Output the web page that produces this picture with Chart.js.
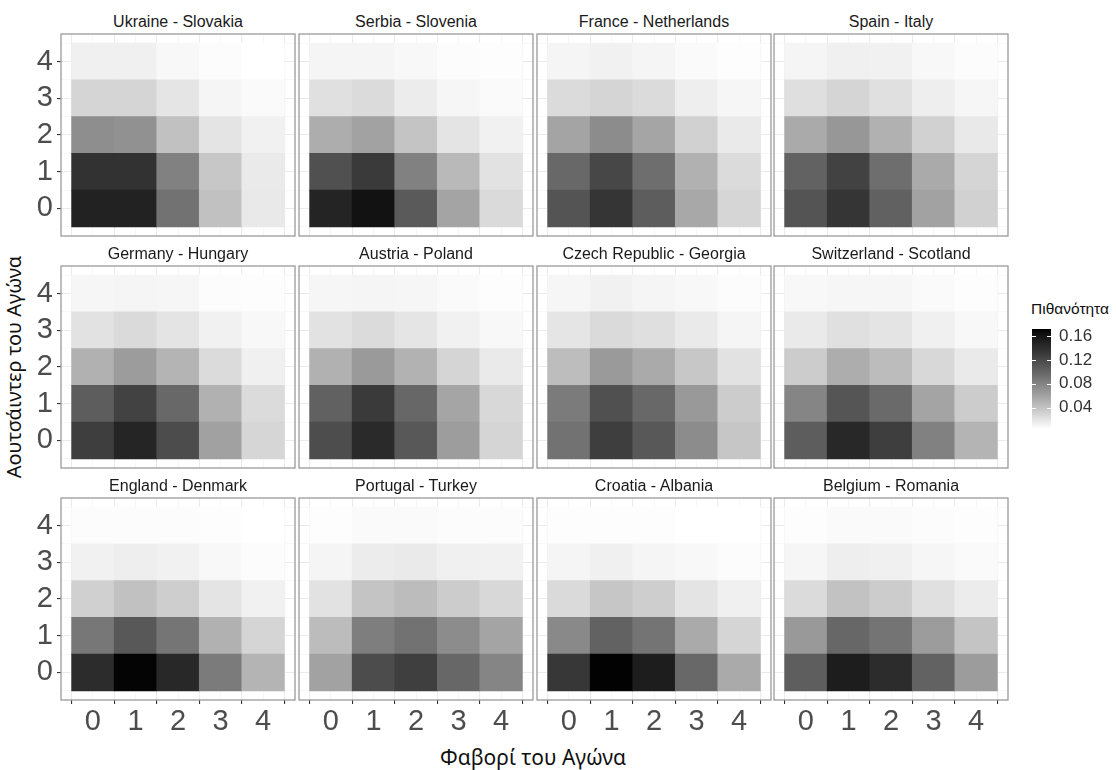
<!DOCTYPE html>
<html>
<head>
<meta charset="utf-8">
<script src="https://cdn.jsdelivr.net/npm/chart.js@4.4.1/dist/chart.umd.min.js"></script>
<style>
    body { margin: 0; width: 1116px; height: 770px; overflow: hidden; position: relative; background: #fff; font-family: "Liberation Sans", Arial, sans-serif; }
    canvas { position: absolute; }
    .strip { position: absolute; text-align: center; font-size: 16px; line-height: 18px; color: #1a1a1a; }
    .axis-title { position: absolute; white-space: nowrap; font-family: "Noto Sans", sans-serif; color: #111; }
</style>
</head>
<body>
<div class="axis-title" style="left:13px; top:367px; font-size:20px; transform: translate(-50%, -50%) rotate(-90deg);">Αουτσάιντερ του Αγώνα</div>
<div class="axis-title" style="left:533px; top:757px; font-size:21px; transform: translate(-50%, -50%);">Φαβορί του Αγώνα</div>
<div class="axis-title" style="left:1070px; top:309px; font-size:15.5px; font-family: 'Liberation Sans', Arial, sans-serif; transform: translate(-50%, -50%);">Πιθανότητα</div>
<script>
// Dữ liệu: tên trận, số bàn, nhãn thang màu
const matches = [
    "Ukraine - Slovakia", "Serbia - Slovenia", "France - Netherlands", "Spain - Italy",
    "Germany - Hungary", "Austria - Poland", "Czech Republic - Georgia", "Switzerland - Scotland",
    "England - Denmark", "Portugal - Turkey", "Croatia - Albania", "Belgium - Romania"
];
const goals = [0, 1, 2, 3, 4];
const minorGoals = [-0.5, 0.5, 1.5, 2.5, 3.5, 4.5];
const legendTicks = [0.04, 0.08, 0.12, 0.16];
const probMin = 0.004, probMax = 0.172;

// Xác suất tỉ số: hàng = bàn đội yếu (0..4), cột = bàn đội mạnh (0..4)
const ukraineSlovakia = [
    [0.150, 0.150, 0.091, 0.041, 0.017],
    [0.137, 0.137, 0.081, 0.037, 0.016],
    [0.073, 0.071, 0.041, 0.020, 0.012],
    [0.029, 0.029, 0.019, 0.010, 0.007],
    [0.013, 0.013, 0.008, 0.006, 0.004]
];
const serbiaSlovenia = [
    [0.148, 0.163, 0.108, 0.059, 0.026],
    [0.115, 0.131, 0.081, 0.046, 0.021],
    [0.053, 0.060, 0.039, 0.020, 0.012],
    [0.022, 0.025, 0.015, 0.009, 0.007],
    [0.010, 0.010, 0.008, 0.006, 0.005]
];
const franceNetherlands = [
    [0.112, 0.135, 0.106, 0.056, 0.028],
    [0.098, 0.121, 0.094, 0.051, 0.025],
    [0.059, 0.074, 0.058, 0.031, 0.016],
    [0.025, 0.029, 0.025, 0.014, 0.009],
    [0.010, 0.012, 0.010, 0.007, 0.005]
];
const spainItaly = [
    [0.112, 0.135, 0.103, 0.060, 0.031],
    [0.102, 0.125, 0.094, 0.055, 0.029],
    [0.055, 0.067, 0.051, 0.031, 0.017],
    [0.023, 0.029, 0.022, 0.014, 0.009],
    [0.010, 0.013, 0.012, 0.008, 0.006]
];
const germanyHungary = [
    [0.128, 0.147, 0.118, 0.061, 0.028],
    [0.106, 0.125, 0.098, 0.051, 0.025],
    [0.051, 0.064, 0.049, 0.025, 0.013],
    [0.021, 0.026, 0.020, 0.012, 0.008],
    [0.009, 0.010, 0.009, 0.006, 0.005]
];
const austriaPoland = [
    [0.117, 0.143, 0.109, 0.063, 0.029],
    [0.103, 0.131, 0.099, 0.058, 0.027],
    [0.051, 0.065, 0.050, 0.029, 0.016],
    [0.021, 0.025, 0.019, 0.012, 0.008],
    [0.009, 0.010, 0.009, 0.007, 0.005]
];
const czechGeorgia = [
    [0.091, 0.128, 0.109, 0.074, 0.038],
    [0.085, 0.115, 0.098, 0.066, 0.034],
    [0.043, 0.065, 0.055, 0.037, 0.021],
    [0.019, 0.026, 0.023, 0.016, 0.010],
    [0.009, 0.012, 0.010, 0.008, 0.006]
];
const switzerlandScotland = [
    [0.106, 0.145, 0.128, 0.081, 0.049],
    [0.079, 0.111, 0.097, 0.059, 0.034],
    [0.034, 0.053, 0.044, 0.027, 0.016],
    [0.016, 0.022, 0.020, 0.013, 0.008],
    [0.008, 0.009, 0.009, 0.007, 0.005]
];
const englandDenmark = [
    [0.142, 0.170, 0.145, 0.085, 0.049],
    [0.088, 0.109, 0.089, 0.051, 0.029],
    [0.032, 0.041, 0.033, 0.020, 0.012],
    [0.012, 0.014, 0.012, 0.008, 0.006],
    [0.006, 0.006, 0.006, 0.005, 0.004]
];
const portugalTurkey = [
    [0.060, 0.118, 0.127, 0.099, 0.079],
    [0.044, 0.083, 0.091, 0.074, 0.059],
    [0.021, 0.039, 0.044, 0.034, 0.027],
    [0.010, 0.015, 0.016, 0.013, 0.012],
    [0.005, 0.007, 0.007, 0.006, 0.006]
];
const croatiaAlbania = [
    [0.133, 0.171, 0.154, 0.098, 0.055],
    [0.076, 0.102, 0.090, 0.055, 0.029],
    [0.026, 0.038, 0.033, 0.020, 0.013],
    [0.010, 0.013, 0.010, 0.008, 0.006],
    [0.005, 0.005, 0.005, 0.004, 0.004]
];
const belgiumRomania = [
    [0.105, 0.154, 0.142, 0.102, 0.064],
    [0.066, 0.099, 0.090, 0.064, 0.039],
    [0.025, 0.040, 0.034, 0.022, 0.015],
    [0.009, 0.014, 0.013, 0.009, 0.007],
    [0.005, 0.007, 0.007, 0.006, 0.005]
];
const probs = [
    ukraineSlovakia, serbiaSlovenia, franceNetherlands, spainItaly,
    germanyHungary, austriaPoland, czechGeorgia, switzerlandScotland,
    englandDenmark, portugalTurkey, croatiaAlbania, belgiumRomania
];

// Bố cục các ô (facet)
const colLeft = [61, 299, 537, 774];
const rowTop = [34, 266, 498];
const panelW = 234, panelH = 202, padL = 52, padB = 50;
const tickFont = { family: "'Liberation Sans', Arial, sans-serif", size: 29 };

// Thang màu trắng -> đen, nội suy theo L* như ggplot
function grayFor(v) {
    let t = (v - probMin) / (probMax - probMin);
    t = Math.min(1, Math.max(0, t));
    const L = 100 * (1 - t);
    const Y = L > 8 ? Math.pow((L + 16) / 116, 3) : L / 903.3;
    const s = Y <= 0.0031308 ? 12.92 * Y : 1.055 * Math.pow(Y, 1 / 2.4) - 0.055;
    const g = Math.round(255 * Math.min(1, Math.max(0, s)));
    return `rgb(${g},${g},${g})`;
}

// bỏ phần đệm tự động cho nhãn, để khung vẽ cố định
function noPad(s) {
    s.paddingTop = 0; s.paddingBottom = 0; s.paddingLeft = 0; s.paddingRight = 0;
}

const panelBorder = {
    id: 'panelBorder',
    afterDatasetsDraw(chart) {
        const { ctx, chartArea: a } = chart;
        ctx.save();
        ctx.strokeStyle = '#9a9a9a';
        ctx.lineWidth = 1.3;
        ctx.strokeRect(a.left, a.top, a.right - a.left, a.bottom - a.top);
        ctx.restore();
    }
};

const hidden = 'rgba(0,0,0,0)';

function mainAxis(showLabels, isX) {
    return {
        type: 'linear', min: -0.75, max: 4.75, offset: false,
        afterBuildTicks: s => { s.ticks = goals.map(v => ({ value: v })); },
        afterFit: s => { if (isX) s.height = padB; else s.width = padL; noPad(s); },
        grid: { color: '#ebebeb', lineWidth: 1.1, tickLength: 4, tickColor: showLabels ? '#333' : hidden },
        border: { display: false },
        ticks: {
            autoSkip: false, maxRotation: 0, padding: isX ? 1 : 4,
            color: showLabels ? '#4d4d4d' : hidden, font: tickFont,
            callback: v => String(v)
        }
    };
}

function minorAxis(isX) {
    return {
        type: 'linear', min: -0.75, max: 4.75, offset: false,
        position: isX ? 'bottom' : 'left',
        afterBuildTicks: s => { s.ticks = minorGoals.map(v => ({ value: v })); },
        afterFit: s => { if (isX) s.height = 0; else s.width = 0; noPad(s); },
        grid: { color: '#f4f4f4', lineWidth: 0.6, drawTicks: false },
        border: { display: false },
        ticks: { display: false }
    };
}

matches.forEach((name, k) => {
    const r = Math.floor(k / 4), c = k % 4;
    const m = probs[k];

    const strip = document.createElement('div');
    strip.className = 'strip';
    strip.style.left = colLeft[c] + 'px';
    strip.style.top = (rowTop[r] - 21) + 'px';
    strip.style.width = panelW + 'px';
    strip.textContent = name;
    document.body.appendChild(strip);

    const cv = document.createElement('canvas');
    cv.width = padL + panelW + 2;
    cv.height = 2 + panelH + padB;
    cv.style.left = (colLeft[c] - padL) + 'px';
    cv.style.top = (rowTop[r] - 2) + 'px';
    document.body.appendChild(cv);

    new Chart(cv.getContext('2d'), {
        type: 'bar',
        data: {
            datasets: goals.map(j => ({
                data: goals.map(i => ({ x: i, y: [j - 0.5, j + 0.5] })),
                backgroundColor: goals.map(i => grayFor(m[j][i])),
                borderWidth: 0,
                barPercentage: 1,
                categoryPercentage: 1,
                grouped: false
            }))
        },
        options: {
            responsive: false,
            animation: false,
            layout: { padding: { top: 2, right: 2, left: 0, bottom: 0 } },
            plugins: { legend: { display: false }, tooltip: { enabled: false } },
            scales: {
                xMinor: minorAxis(true),
                yMinor: minorAxis(false),
                x: mainAxis(r === 2, true),
                y: mainAxis(c === 0, false)
            }
        },
        plugins: [panelBorder]
    });
});

// Thanh màu chú giải
const legendCanvas = document.createElement('canvas');
legendCanvas.width = 19 + 60;
legendCanvas.height = 115;
legendCanvas.style.left = '1032px';
legendCanvas.style.top = '322px';
document.body.appendChild(legendCanvas);

const barTicks = {
    id: 'barTicks',
    afterDatasetsDraw(chart) {
        const { ctx, chartArea: a } = chart;
        const ys = chart.scales.y;
        ctx.save();
        ctx.strokeStyle = '#fff';
        ctx.lineWidth = 1;
        legendTicks.forEach(v => {
            const y = Math.round(ys.getPixelForValue(v)) + 0.5;
            ctx.beginPath();
            ctx.moveTo(a.left, y); ctx.lineTo(a.left + 4, y);
            ctx.moveTo(a.right - 4, y); ctx.lineTo(a.right, y);
            ctx.stroke();
        });
        ctx.restore();
    }
};

new Chart(legendCanvas.getContext('2d'), {
    type: 'bar',
    data: {
        labels: ['p'],
        datasets: [{
            data: [[probMin, probMax]],
            barPercentage: 1,
            categoryPercentage: 1,
            borderWidth: 0,
            backgroundColor: c => {
                const a = c.chart.chartArea;
                if (!a) return '#000';
                const g = c.chart.ctx.createLinearGradient(0, a.bottom, 0, a.top);
                for (let s = 0; s <= 20; s++) {
                    g.addColorStop(s / 20, grayFor(probMin + (probMax - probMin) * s / 20));
                }
                return g;
            }
        }]
    },
    options: {
        responsive: false,
        animation: false,
        layout: { padding: { top: 7, bottom: 8, left: 0, right: 0 } },
        plugins: { legend: { display: false }, tooltip: { enabled: false } },
        scales: {
            x: { display: false },
            y: {
                position: 'right', min: probMin, max: probMax,
                afterBuildTicks: s => { s.ticks = legendTicks.map(v => ({ value: v })); },
                afterFit: s => { s.width = 60; noPad(s); },
                grid: { display: false, drawTicks: false },
                border: { display: false },
                ticks: {
                    padding: 8, color: '#333',
                    font: { family: "'Liberation Sans', Arial, sans-serif", size: 17 },
                    callback: v => v.toFixed(2)
                }
            }
        }
    },
    plugins: [barTicks]
});
</script>
</body>
</html>
